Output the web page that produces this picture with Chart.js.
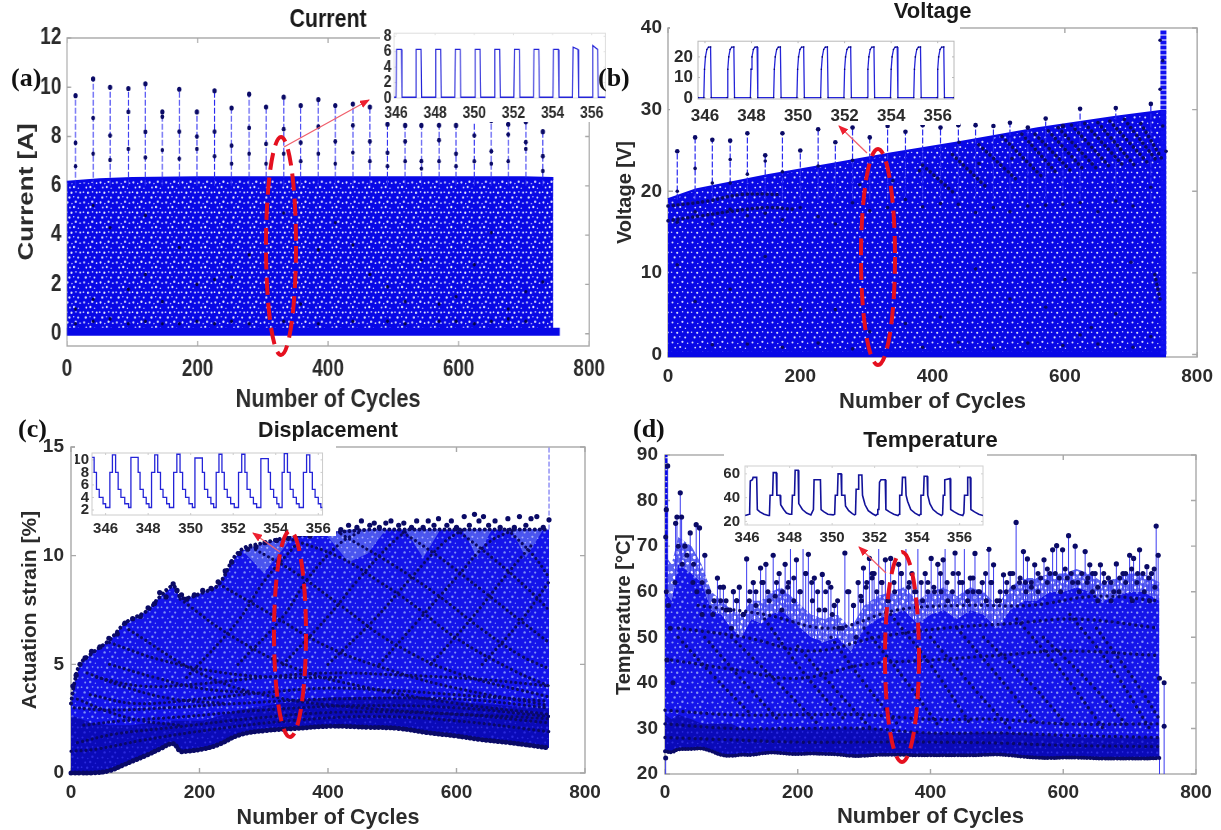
<!DOCTYPE html>
<html>
<head>
<meta charset="utf-8">
<title>Current, voltage, displacement, temperature</title>
<script src="https://cdn.jsdelivr.net/npm/chart.js@4"></script>
<style>
body { margin: 0; background: #fff; width: 1221px; height: 830px; overflow: hidden; position: relative; }
canvas { position: absolute; filter: blur(0.4px); }
.tag { position: absolute; font: bold 26px "Liberation Serif", serif; color: #111; z-index: 5; }
svg { position: absolute; left: 0; top: 0; z-index: 4; }
</style>
</head>
<body>
<canvas id="chartA"></canvas>
<canvas id="chartB"></canvas>
<canvas id="chartC"></canvas>
<canvas id="chartD"></canvas>
<canvas id="insetA"></canvas>
<canvas id="insetB"></canvas>
<canvas id="insetC"></canvas>
<canvas id="insetD"></canvas>
<div class="tag" style="left:11px;top:63px">(a)</div>
<div class="tag" style="left:598px;top:63px">(b)</div>
<div class="tag" style="left:18px;top:414px">(c)</div>
<div class="tag" style="left:633px;top:414px">(d)</div>
<svg width="1221" height="830">
  <defs>
    <marker id="head" markerWidth="10" markerHeight="8" refX="9" refY="4" orient="auto" markerUnits="userSpaceOnUse">
      <path d="M0,0 L10,4 L0,8 z" fill="#ee2030"></path>
    </marker>
  </defs>
  <g fill="none" stroke="#e5101f" stroke-width="4" stroke-dasharray="17 8">
    <ellipse cx="281" cy="246" rx="15" ry="109"></ellipse>
    <ellipse cx="878" cy="257" rx="17" ry="108"></ellipse>
    <ellipse cx="290" cy="634" rx="16" ry="103"></ellipse>
    <ellipse cx="902" cy="657" rx="17" ry="105"></ellipse>
  </g>
  <g stroke="#f0606c" stroke-width="1.3" marker-end="url(#head)">
    <line x1="284" y1="147" x2="369" y2="100"></line>
    <line x1="867" y1="153" x2="839" y2="126"></line>
    <line x1="280" y1="552" x2="253" y2="533"></line>
    <line x1="886" y1="573" x2="859" y2="547"></line>
  </g>
</svg>
<script>
var xTicks = [0, 200, 400, 600, 800];
var insetXTicks = [346, 348, 350, 352, 354, 356];

// panel a, current
var aYTicks = [0, 2, 4, 6, 8, 10, 12];
var aX = [0, 50, 100, 200, 300, 400, 500, 600, 700, 745];
var aTop = [6.15, 6.25, 6.3, 6.33, 6.33, 6.33, 6.33, 6.33, 6.33, 6.3];
var aFloorX = [0, 755];
var aFloorY = [0.08, 0.08];
var aSpikeX = [13, 40, 66, 94, 120, 146, 172, 199, 226, 252, 279, 305, 332, 358, 385, 411, 438, 464, 491, 518, 543, 570, 596, 624, 650, 676, 703, 729];
var aPeak = [9.66, 10.34, 10, 9.95, 10.14, 9, 9.92, 9, 9.86, 9.16, 9.72, 9.2, 9.6, 9.26, 9.5, 9.26, 9.32, 9.2, 8.5, 8.45, 8.45, 8.46, 8.45, 8.7, 8.65, 8.5, 8.6, 8.2];
var aMid1 = [7.74, 8.75, 8.04, 9, 8.19, 8.8, 8.2, 8, 8.2, 7.63, 8.35, 7.7, 8.3, 7.75, 8.4, 7.8, 8.45, 7.8, 7.34, 7.8, 7, 7.85, 7.3, 8.04, 7.4, 8.08, 7.77, 7.2];
var aMid2 = [6.8, 7.3, 7.05, 7.5, 7.15, 7.45, 7.1, 7.5, 7.2, 6.9, 7.3, 6.9, 7.3, 7, 7.3, 6.9, 7.35, 7, 6.8, 7, 6.7, 7, 6.8, 7, 6.9, 7, 7.5, 6.6];
var aLowX = [13, 40, 66, 94, 120, 146, 172, 199, 226, 252, 279, 332, 385, 438, 491, 518, 570, 596, 624, 650, 676, 703, 13, 40, 94, 120, 146, 199, 252, 305, 358, 411, 464, 518, 570, 624, 676, 40, 66, 120, 172, 226, 279, 332, 385, 438, 491, 543, 596, 650, 703, 729];
var aLowY = [0.4, 0.5, 0.6, 0.4, 0.5, 0.4, 0.4, 0.5, 0.4, 0.5, 0.4, 0.5, 0.4, 0.5, 0.5, 0.4, 0.5, 0.5, 0.4, 0.5, 0.6, 0.5, 1, 1.4, 1.8, 2.4, 1.3, 2, 2.3, 1.8, 1.2, 4.5, 2.4, 1.3, 1.2, 2.8, 1, 5.2, 4.3, 4.8, 3.5, 2.2, 3.2, 4.9, 3.4, 3.6, 1.9, 3, 1.5, 4.1, 1.7, 2.1];

// panel b, voltage
var bYTicks = [0, 10, 20, 30, 40];
var bX = [0, 42, 148, 254, 336, 442, 559, 677, 744, 753];
var bTop = [19, 20.2, 21.9, 23.4, 24.6, 26, 27.7, 29.1, 29.8, 29.8];
var bFloorX = [0, 753];
var bFloorY = [0.05, 0.05];
var bColumnX = [749, 749];
var bColumnY = [0, 39.8];
var bSpikeX = [14, 41, 67, 94, 120, 147, 173, 200, 227, 253, 279, 305, 332, 359, 385, 412, 439, 465, 492, 517, 544, 571, 597, 623, 677, 730];
var bPeak = [24.9, 26.6, 26.3, 26.2, 27.1, 24.4, 27.1, 25, 27.6, 26, 27.8, 26.6, 28, 27.3, 28.1, 27.8, 28.1, 28.1, 28, 28.4, 27.8, 28.9, 28, 30.1, 30.2, 30.7];
var bDotX = [14, 41, 67, 94, 94, 120, 147, 173, 227, 279, 744, 744, 753, 748, 748, 14, 41, 67, 94, 120, 147, 173, 200, 227, 253, 279, 305, 332, 359, 385, 412, 439, 465, 492, 517, 544, 571, 597, 623, 650, 677, 703, 730, 14, 41, 94, 147, 200, 253, 305, 359, 412, 465, 517, 571, 623, 677, 730, 67, 120, 173, 227, 279, 332, 385, 439, 492, 544, 597, 650, 703, 600, 640, 700, 440, 470, 520, 380, 340, 290];
var bDotY = [20, 22.8, 21, 23.9, 21, 22.1, 23.7, 22.4, 23.1, 23.8, 32.5, 38.5, 24.9, 28, 36, 16.2, 17.5, 16, 17.8, 17, 17.3, 16.5, 18, 16.9, 16, 18.6, 17.6, 18, 19, 18.1, 18.5, 18.4, 17.4, 18, 17.5, 18.2, 18.3, 18.4, 18.6, 17.5, 18.8, 18.2, 20.5, 11, 6.5, 8, 12, 5.5, 5.5, 2.8, 3.8, 4.6, 10.5, 6.8, 5.8, 2.4, 5, 2.2, 1.2, 1.3, 0.9, 1.4, 0.7, 1.2, 0.9, 1.5, 0.8, 1.4, 1.1, 1.3, 0.9, 9.2, 3.3, 11.3, 26, 23.4, 24, 22.5, 21.3, 20.8];
var bChainX = [[0, 60, 110, 170], [0, 50, 100, 150, 190], [385, 432], [430, 480], [470, 530], [505, 565], [535, 590], [555, 610], [575, 630], [590, 650], [610, 670], [630, 690], [650, 705], [668, 725], [690, 740], [715, 748], [736, 744]];
var bChainY = [[18.2, 18.8, 19.6, 19.6], [16.4, 17, 17.6, 18, 17.8], [23.2, 19.8], [24.5, 20.6], [25.7, 21.2], [26.7, 21.8], [27, 22], [27, 22.4], [27.4, 22.5], [27.8, 22.6], [28.1, 22.8], [28.3, 23], [28.4, 23.2], [28.6, 23.5], [28.8, 23.6], [28.3, 23.8], [9.8, 6.7]];

// panel c, actuation strain
var cYTicks = [0, 5, 10, 15];
var cX = [0, 5, 14, 32, 59, 84, 96, 120, 138, 159, 170, 180, 205, 229, 262, 302, 350, 405, 465, 510, 556, 600, 635, 680, 720, 744];
var cTop = [3.2, 4.1, 5, 5.5, 6.1, 6.9, 7.1, 7.5, 8.1, 8.6, 8.1, 8.05, 8.3, 8.65, 10.2, 10.6, 10.9, 11.05, 11.2, 11.2, 11.2, 11.2, 11.2, 11.2, 11.2, 11.2];
var cBand = [2.6, 2.6, 2.5, 2.3, 2.2, 2.2, 2.2, 2.3, 2.3, 2.4, 2.4, 2.4, 2.4, 2.6, 2.9, 3.1, 3.3, 3.5, 3.5, 3.5, 3.4, 3.3, 3.2, 3.1, 3, 3];
var cBottom = [0, 0, 0, 0, 0.1, 0.4, 0.55, 0.85, 1.1, 1.35, 1, 1, 1.1, 1.3, 1.75, 1.95, 2.05, 2.15, 2.1, 2.05, 1.85, 1.7, 1.55, 1.4, 1.25, 1.15];
var cShadeX = [268, 300, 322, 345, 395, 432, 462, 490, 520, 548, 575, 610, 632, 655, 685, 708, 735];
var cShadeTop = [10.2, 10.6, 10.7, 10.9, 11.05, 11.2, 11.2, 11.2, 11.2, 11.2, 11.2, 11.2, 11.2, 11.2, 11.2, 11.2, 11.2];
var cShadeLow = [10.2, 9.2, 10, 10.9, 11.05, 9.7, 10.1, 11.2, 11.2, 9.9, 11.2, 11.2, 9.9, 11.2, 11.2, 9.9, 11.2];
var cSpikeX = [744, 744];
var cSpikeY = [11.2, 15];
var cDotX = [3, 8, 14, 22, 32, 45, 59, 72, 84, 96, 108, 120, 130, 138, 148, 159, 165, 172, 180, 192, 205, 218, 229, 240, 250, 262, 275, 288, 302, 320, 338, 350, 372, 390, 405, 420, 432, 445, 452, 465, 472, 480, 490, 498, 510, 518, 530, 538, 548, 556, 565, 572, 585, 592, 600, 612, 620, 628, 635, 642, 650, 660, 668, 680, 690, 698, 708, 716, 725, 735, 744];
var cDotY = [4, 4.5, 5, 5.3, 5.6, 5.8, 6.2, 6.4, 6.9, 7.1, 7.2, 7.6, 7.8, 8.3, 8.1, 8.7, 8.4, 8.2, 8, 8.2, 8.4, 8.5, 8.8, 9.3, 9.7, 10.1, 10.3, 10.4, 10.6, 10.7, 10.8, 10.9, 10.9, 11, 11.1, 11.2, 11.4, 11.3, 11.6, 11.4, 11.5, 11.3, 11.5, 11.6, 11.4, 11.5, 11.3, 11.6, 11.3, 11.6, 11.4, 11.7, 11.4, 11.6, 11.3, 11.8, 11.4, 11.9, 11.6, 11.8, 11.4, 11.6, 11.3, 11.7, 11.3, 11.8, 11.4, 11.7, 11.8, 11.3, 11.65];
var cArcX = [[338, 420, 480, 530, 600, 690, 744], [280, 350, 420, 500, 600, 744], [230, 300, 400, 500, 600, 744], [170, 250, 350, 450, 600, 744], [90, 200, 300, 450, 744], [420, 500, 570, 640, 700, 744], [510, 570, 640, 700, 744], [600, 660, 710, 744], [680, 720, 744], [480, 540, 600, 650, 690], [400, 470, 530, 580, 610], [330, 400, 450, 500, 530], [260, 330, 370, 420, 450], [180, 260, 300, 350], [560, 620, 680, 720], [640, 700, 744], [30, 100, 200, 300, 400, 500, 600, 744], [20, 80, 180, 300, 450, 600, 744], [10, 70, 160, 280, 420, 600, 744], [5, 60, 150, 260, 400, 600, 744], [40, 110, 200, 300, 400, 520, 640, 744], [0, 40, 110, 220, 340, 470, 600, 744], [60, 140, 240, 330, 420], [60, 130, 200, 280], [25, 90, 160, 240], [10, 60, 110, 170]];
var cArcY = [[10.8, 9.9, 8.8, 7.8, 6.2, 4.7, 4], [10.4, 9.2, 7.7, 6, 4.6, 3.5], [8.7, 7.5, 5.8, 4.7, 3.9, 3.1], [8, 6.3, 4.8, 4, 3.2, 2.7], [6.6, 4.6, 3.6, 3, 2.5], [11, 9.6, 8.2, 6.6, 5.4, 4.8], [11.2, 10, 8.4, 7, 6], [11.2, 9.8, 8.5, 7.5], [11.2, 10, 9], [5, 7, 9, 10.6, 11.2], [5, 7, 9, 10.6, 11.2], [5, 7.2, 9, 10.6, 11.3], [5, 7.2, 9, 10.6, 11.1], [4.4, 7, 8.8, 10.5], [5, 7, 9.2, 10.6], [5, 7, 8.8], [3.6, 3.2, 3.4, 3.7, 3.9, 3.8, 3.6, 3.3], [2.2, 2.4, 2.6, 2.9, 3.1, 3, 2.6], [1.4, 1.8, 2.1, 2.5, 2.8, 2.7, 2.3], [3, 2.9, 3, 3.2, 3.4, 3.4, 3], [4.4, 4, 4.1, 4.4, 4.6, 4.5, 4.3, 4], [1, 1.1, 1.5, 2, 2.4, 2.6, 2.4, 1.9], [6, 5.2, 4.6, 4.4, 4.4], [5, 4.4, 3.9, 3.7], [4.6, 3.9, 3.4, 3.2], [3.4, 2.8, 2.4, 2.2]];

// panel d, temperature
var dYTicks = [20, 30, 40, 50, 60, 70, 80, 90];
var dX = [0, 10, 20, 40, 55, 70, 85, 100, 115, 130, 145, 160, 175, 190, 205, 220, 240, 260, 280, 300, 320, 340, 360, 380, 400, 420, 440, 460, 480, 500, 520, 540, 560, 580, 600, 620, 640, 660, 680, 700, 720, 745];
var dHaze = [68, 66, 72, 70, 66, 60, 58, 56, 55, 58, 58, 60, 61, 59, 57, 55, 54, 55, 52, 57, 59, 60, 61, 58, 60, 61, 59, 61, 60, 57, 61, 63, 63, 64, 64, 65, 64, 62, 63, 64, 64, 62];
var dTop = [60, 58, 66, 64, 62, 56, 55, 52, 50, 54, 53, 55, 56, 54, 52, 50, 49, 50, 47, 52, 54, 55, 56, 53, 55, 56, 54, 56, 55, 52, 56, 58, 58, 60, 60, 61, 60, 58, 59, 60, 60, 58];
var dBand = [33, 32, 33, 32, 31, 31, 31, 31, 30, 30, 30, 30, 30, 30, 30, 30, 30, 30, 30, 30, 30, 29, 29, 29, 29, 29, 29, 29, 29, 29, 29, 29, 28.5, 28.5, 28, 28, 28, 28, 28, 28, 28, 28];
var dBottom = [25, 24.8, 25.4, 25.5, 25.6, 25, 24.2, 24, 24.2, 24.2, 24.5, 24.7, 24.6, 24.4, 24.4, 24.5, 24.4, 24.3, 24, 24, 24.2, 24.2, 24.2, 24.1, 24.1, 24.1, 24.1, 24.1, 24.2, 24.3, 24.1, 23.8, 23.6, 23.5, 23.6, 23.6, 23.5, 23.4, 23.4, 23.4, 23.4, 23.5];
var dEdgeX = [1, 745, 752];
var dEdgeTop = [23.5, 24, 40];
var dWallX = [2, 2];
var dWallY = [25, 90];
var dSpikeX = [2, 4, 16, 18, 23, 25, 30, 38, 47, 52, 60, 79, 88, 103, 112, 123, 133, 144, 152, 163, 172, 181, 189, 198, 208, 216, 225, 237, 246, 255, 271, 284, 291, 299, 308, 315, 322, 332, 340, 352, 363, 372, 381, 392, 401, 411, 419, 422, 437, 451, 460, 467, 478, 488, 495, 510, 520, 529, 540, 546, 557, 571, 584, 590, 599, 608, 618, 633, 640, 648, 656, 668, 680, 690, 700, 706, 715, 726, 733, 740, 743];
var dSpikeTop = [78, 87.6, 75, 76.4, 81.7, 76.4, 70, 72.9, 74.7, 74, 68, 63, 61, 60, 61, 67.2, 62, 65.2, 66, 68, 64, 66, 70, 67, 70, 68.2, 63, 63.8, 62, 57, 68.5, 57, 62, 65.2, 67.3, 64, 70, 67, 67.3, 66, 70, 64, 70, 64, 67.3, 66, 67, 70, 68.5, 70, 63, 68.4, 62, 69.3, 65.9, 63.7, 64, 75.2, 68.8, 67.2, 65.9, 67, 69.2, 70.1, 69.2, 72.3, 70, 68.8, 65.9, 64, 65.9, 63, 66.1, 64, 68, 67.3, 69.2, 65.5, 64, 74.4, 68];
var dMidX = [43, 56, 66, 74, 83, 92, 98, 108, 118, 127, 137, 148, 157, 168, 177, 185, 194, 203, 212, 221, 230, 241, 250, 260, 267, 277, 295, 303, 312, 319, 327, 336, 345, 356, 367, 376, 386, 396, 405, 415, 425, 433, 442, 448, 456, 464, 472, 483, 491, 500, 505, 515, 525, 535, 543, 552, 562, 566, 576, 580, 594, 603, 612, 622, 628, 637, 644, 652, 661, 672, 676, 685, 694, 703, 711, 720, 729, 737];
var dMidTop = [66, 62, 60, 58, 61, 58, 56, 58, 55, 58, 60, 62, 58, 62, 60, 61, 63, 60, 64, 62, 60, 56, 61, 58, 52, 60, 59, 61, 63, 60, 62, 58, 62, 64, 61, 60, 62, 60, 61, 64, 62, 60, 64, 62, 60, 63, 60, 64, 62, 58, 60, 62, 61, 63, 62, 62, 64, 63, 65, 64, 63, 65, 64, 62, 64, 63, 64, 61, 64, 62, 60, 63, 64, 65, 62, 64, 63, 65];
var dDotX = [1, 2, 3, 5, 8, 12, 15, 20, 26, 33, 42, 48, 56, 65, 72, 84, 92, 100, 108, 118, 128, 137, 146, 155, 166, 176, 186, 194, 204, 212, 222, 232, 242, 252, 262, 275, 288, 296, 304, 312, 326, 336, 346, 356, 368, 378, 388, 396, 406, 416, 426, 434, 444, 456, 464, 474, 484, 492, 504, 514, 524, 534, 544, 552, 562, 576, 588, 596, 606, 614, 624, 636, 644, 652, 662, 672, 684, 694, 704, 712, 722, 730, 738, 745, 752, 752, 1];
var dDotY = [72, 60, 45, 57, 52, 40, 62, 70, 66, 68, 62, 60, 55, 60, 55, 58, 56, 52, 58, 55, 60, 57, 62, 60, 59, 56, 62, 58, 60, 64, 58, 56, 60, 55, 52, 60, 50, 58, 62, 64, 62, 58, 60, 64, 62, 60, 58, 62, 60, 60, 58, 64, 62, 58, 60, 60, 58, 62, 58, 60, 64, 62, 60, 61, 60, 62, 64, 60, 63, 62, 60, 62, 60, 58, 62, 58, 60, 62, 58, 64, 60, 58, 61, 41, 30.5, 40, 23.5];
var dChainX = [[400, 470, 520], [440, 510, 560], [480, 550, 610], [530, 600, 660], [570, 640, 700], [610, 670, 730], [650, 710, 745], [20, 70, 130], [60, 120, 170], [100, 170, 230], [150, 210, 270], [200, 260, 310], [250, 300, 350], [300, 360, 410], [340, 400, 460], [50, 150, 250, 350, 450, 550, 650, 745], [20, 120, 220, 320, 420, 520, 620, 745], [10, 100, 200, 300, 400, 500, 600, 745], [0, 100, 200, 300, 400, 500, 600, 745], [0, 100, 200, 300, 400, 500, 600, 745], [0, 100, 200, 300, 400, 500, 600, 745]];
var dChainY = [[50, 38, 30], [52, 40, 31], [50, 40, 30], [54, 42, 30], [50, 40, 30], [55, 44, 30], [52, 40, 32], [50, 42, 33], [50, 40, 32], [50, 40, 31], [54, 42, 32], [48, 38, 30], [50, 40, 31], [52, 41, 31], [55, 44, 31], [57, 55, 52, 56, 57, 57, 59, 58], [52, 50, 47, 50, 52, 53, 54, 52], [45, 43, 41, 44, 45, 46, 47, 46], [34, 33, 33, 33, 32, 32, 31, 31], [31, 30, 30, 30, 29, 29, 28.5, 28], [28, 27.5, 27, 27, 27, 26.8, 26.3, 26]];

// zoomed insets
var aInsetYTicks = [0, 2, 4, 6, 8];
var aInsetX = [345.9, 346, 346.03, 346.28, 346.31, 347, 347.03, 347.28, 347.31, 348, 348.03, 348.28, 348.31, 349, 349.03, 349.28, 349.31, 350.02, 350.05, 350.3, 350.33, 351.02, 351.05, 351.3, 351.33, 352.02, 352.05, 352.3, 352.33, 353.02, 353.05, 353.3, 353.33, 354.02, 354.05, 354.3, 354.33, 355.02, 355.05, 355.3, 355.33, 356.02, 356.05, 356.3, 356.33, 356.75];
var aInsetY = [0.1, 0.1, 6.3, 6.3, 0.1, 0.1, 6.3, 6.3, 0.1, 0.1, 6.3, 6.3, 0.1, 0.1, 6.3, 6.3, 0.1, 0.1, 6.3, 6.3, 0.1, 0.1, 6.3, 6.3, 0.1, 0.1, 6.3, 6.3, 0.1, 0.1, 6.3, 6.3, 0.1, 0.1, 6.3, 6.3, 0.1, 0.1, 6.6, 6.3, 0.1, 0.1, 6.8, 6.3, 0.1, 0.1];

var bInsetYTicks = [0, 10, 20];
var bInsetX = [345.7, 345.95, 345.98, 346.02, 346.08, 346.15, 346.24, 346.27, 346.95, 346.98, 347.02, 347.08, 347.15, 347.24, 347.27, 347.95, 347.98, 348.02, 348.08, 348.15, 348.24, 348.27, 348.95, 348.98, 349.02, 349.08, 349.15, 349.24, 349.27, 349.95, 349.98, 350.02, 350.08, 350.15, 350.24, 350.27, 350.97, 351, 351.04, 351.1, 351.17, 351.26, 351.29, 351.97, 352, 352.04, 352.1, 352.17, 352.26, 352.29, 352.97, 353, 353.04, 353.1, 353.17, 353.26, 353.29, 353.97, 354, 354.04, 354.1, 354.17, 354.26, 354.29, 354.97, 355, 355.04, 355.1, 355.17, 355.26, 355.29, 355.97, 356, 356.04, 356.1, 356.17, 356.26, 356.29, 356.7];
var bInsetY = [0.3, 0.3, 14, 20, 23.6, 24.7, 24.8, 0.3, 0.3, 14, 20, 23.6, 24.7, 24.8, 0.3, 0.3, 14, 20, 23.6, 24.7, 24.8, 0.3, 0.3, 14, 20, 23.6, 24.7, 24.8, 0.3, 0.3, 14, 20, 23.6, 24.7, 24.8, 0.3, 0.3, 14, 20, 23.6, 24.7, 24.8, 0.3, 0.3, 14, 20, 23.6, 24.7, 24.8, 0.3, 0.3, 14, 20, 23.6, 24.7, 24.8, 0.3, 0.3, 14, 20, 23.6, 24.7, 24.8, 0.3, 0.3, 14, 20, 23.6, 24.7, 24.8, 0.3, 0.3, 14, 20, 23.6, 24.7, 24.8, 0.3, 0.3];

var cInsetYTicks = [2, 4, 6, 8, 10];
var cInsetX = [345.37, 345.46, 345.57, 345.7, 345.88, 346, 346.2, 346.32, 346.47, 346.59, 346.72, 346.9, 347.08, 347.19, 347.53, 347.62, 347.77, 347.91, 348.04, 348.16, 348.31, 348.45, 348.58, 348.7, 348.87, 349, 349.2, 349.35, 349.5, 349.62, 349.76, 349.92, 350.08, 350.2, 350.55, 350.65, 350.8, 350.95, 351.08, 351.2, 351.33, 351.47, 351.58, 351.72, 351.88, 352.05, 352.25, 352.4, 352.55, 352.65, 352.8, 352.95, 353.1, 353.3, 353.65, 353.75, 353.9, 354.05, 354.15, 354.3, 354.4, 354.55, 354.68, 354.82, 354.97, 355.1, 355.3, 355.45, 355.6, 355.72, 355.85, 356, 356.12, 356.2];
var cInsetY = [10.4, 8, 5.3, 4, 3, 2.4, 8, 10.8, 8, 5.3, 4, 3, 2.4, 10.4, 8, 5.3, 4, 3, 2.4, 8, 10.8, 8, 5.3, 4, 3, 2.4, 8, 10.9, 8, 5.3, 4, 3, 2.4, 10.3, 8, 5.3, 4, 3, 2.4, 8, 10.9, 8, 5.3, 4, 3, 2.4, 8, 10.9, 8, 5.3, 4, 3, 2.4, 10.2, 8, 5.3, 4, 3, 2.4, 8, 11, 8, 5.3, 4, 3, 2.4, 8, 10.8, 8, 5.3, 4, 3, 2.4, 2.4];

var dInsetYTicks = [20, 40, 60];
var dInsetX = [345.91, 346.1, 346.12, 346.15, 346.25, 346.28, 346.45, 346.48, 346.6, 346.8, 347, 347.05, 347.08, 347.2, 347.23, 347.37, 347.4, 347.55, 347.58, 347.72, 347.85, 348, 348.1, 348.13, 348.23, 348.26, 348.4, 348.43, 348.6, 348.8, 349, 349.12, 349.15, 349.45, 349.48, 349.62, 349.8, 350.05, 350.12, 350.15, 350.25, 350.28, 350.42, 350.45, 350.6, 350.63, 350.78, 350.95, 351.05, 351.1, 351.13, 351.22, 351.25, 351.4, 351.43, 351.55, 351.7, 351.9, 352.05, 352.12, 352.15, 352.2, 352.23, 352.3, 352.5, 352.53, 352.7, 352.9, 353.1, 353.15, 353.18, 353.28, 353.31, 353.45, 353.48, 353.55, 353.7, 353.9, 354.1, 354.15, 354.18, 354.3, 354.33, 354.47, 354.5, 354.6, 354.75, 354.95, 355.15, 355.2, 355.23, 355.27, 355.3, 355.55, 355.58, 355.75, 355.95, 356.15, 356.2, 356.23, 356.35, 356.38, 356.5, 356.53, 356.7, 356.9, 357.1];
var dInsetY = [25, 26, 29, 54, 55, 57, 57, 30, 28, 26, 25, 25, 42, 42, 61, 61, 42, 42, 34, 30, 27, 26, 26, 42, 42, 63, 63, 35, 30, 27, 25.5, 30, 55, 55, 30, 28, 26, 25.5, 26, 42, 42, 60, 60, 42, 42, 33, 29, 26.5, 25.5, 26, 47, 47, 59, 59, 42, 34, 29, 26.5, 25, 26, 30, 30, 53, 55, 55, 30, 28, 26, 25, 26, 42, 42, 57, 57, 42, 37, 30, 27, 25, 26, 42, 42, 58, 58, 42, 35, 30, 27, 25, 26, 42, 42, 55, 56, 30, 28, 26, 25, 27, 42, 42, 57, 57, 30, 28, 26, 25];

var blue = '#0808e6';
var navy = '#0a0a66';
var wide = '"Liberation Sans", sans-serif';

// speckle used to fill the solid part of each panel, a 20px tile with uneven dots
function speckle(base, dot, size) {
  var c = document.createElement('canvas');
  c.width = 20;
  c.height = 20;
  var g = c.getContext('2d');
  g.fillStyle = base;
  g.fillRect(0, 0, 20, 20);
  g.fillStyle = dot;
  [[2.5, 2.5, 1], [7.8, 3.6, 0.7], [12.4, 1.8, 1.1], [17.6, 3.2, 0.8], [5.2, 7.6, 0.9], [10.2, 7, 1.1], [15.4, 8.2, 0.7], [1.6, 12.2, 0.8], [7.2, 12.8, 1.1], [12.6, 11.8, 0.8], [17.8, 12.6, 1], [4.6, 17.4, 1.1], [9.8, 16.8, 0.7], [15.2, 17.6, 1]].forEach(function (d) {
    g.beginPath();
    g.arc(d[0], d[1], d[2] * size, 0, 7);
    g.fill();
  });
  return g.createPattern(c, 'repeat');
}

function pts(xs, ys) {
  return xs.map(function (x, i) { return { x: x, y: ys[i] }; });
}

function line(xs, ys, extra) {
  return Object.assign({ data: pts(xs, ys), pointRadius: 0, borderColor: blue, borderWidth: 1, clip: false, fill: false }, extra);
}

function dots(xs, ys, r, color) {
  return { data: pts(xs, ys), showLine: false, pointRadius: r || 2.4, pointBackgroundColor: color || navy, pointBorderWidth: 0, clip: false };
}

// vertical spikes, broken apart with NaN
function spikes(xs, base, tops, extra) {
  var out = [];
  xs.forEach(function (x, i) {
    out.push({ x: x, y: base }, { x: x, y: tops[i] }, { x: x, y: NaN });
  });
  return Object.assign({ data: out, pointRadius: 0, borderColor: '#2a2af0', borderWidth: 1.2, borderDash: [6, 2], clip: false, spanGaps: false, fill: false }, extra);
}

// strings of dark points along a curve
function chains(xLists, yLists, width, gap) {
  return xLists.map(function (xs, i) {
    return chain(xs, yLists[i], width, gap);
  });
}

function chain(xs, ys, width, gap) {
  return line(xs, ys, { borderColor: navy, borderWidth: width, borderDash: [0.01, gap], borderCapStyle: 'round', tension: 0.4 });
}

var framePlugin = {
  id: 'frame',
  beforeDatasetsDraw: function (chart, args, opts) {
    var a = chart.chartArea, g = chart.ctx;
    g.save();
    g.strokeStyle = opts.color;
    g.lineWidth = opts.width;
    g.strokeRect(a.left, a.top, a.right - a.left, a.bottom - a.top);
    chart.scales.x.ticks.forEach(function (t) {
      var p = chart.scales.x.getPixelForValue(t.value);
      g.beginPath();
      g.moveTo(p, a.bottom); g.lineTo(p, a.bottom - opts.tick);
      g.moveTo(p, a.top); g.lineTo(p, a.top + opts.tick);
      g.stroke();
    });
    chart.scales.y.ticks.forEach(function (t) {
      var p = chart.scales.y.getPixelForValue(t.value);
      g.beginPath();
      g.moveTo(a.left, p); g.lineTo(a.left + opts.tick, p);
      g.moveTo(a.right, p); g.lineTo(a.right - opts.tick, p);
      g.stroke();
    });
    g.restore();
  }
};

function setTicks(list) {
  return function (axis) {
    axis.ticks = list.map(function (v) { return { value: v }; });
  };
}

// box is where the canvas sits on the page; squeeze narrows the drawing sideways (panel a uses a condensed look)
function draw(id, box, plot, p, datasets) {
  var sq = box.squeeze || 1;
  var c = document.getElementById(id);
  c.width = Math.round(box.w / sq);
  c.height = box.h;
  c.style.left = box.x + 'px';
  c.style.top = box.y + 'px';
  c.style.width = box.w + 'px';
  c.style.height = box.h + 'px';
  if (box.white) c.style.background = '#fff';
  datasets.forEach(function (d, i) { d.order = datasets.length - i; });
  var xGap = p.xTitle ? box.h - p.xTitleY - p.xTitleSize * 0.6 : 0;
  var yGap = p.yTitle ? p.yTitleX / sq - p.yTitleSize * 0.6 : 0;
  var titleH = p.title ? p.titleSize * 1.2 : 0;
  new Chart(c.getContext('2d'), {
    type: 'line',
    data: { datasets: datasets },
    plugins: [framePlugin],
    options: {
      responsive: false,
      animation: false,
      events: [],
      layout: { padding: { top: p.title ? 0 : plot.top, right: c.width - plot.right / sq, left: 0, bottom: 0 } },
      plugins: {
        legend: { display: false },
        tooltip: { enabled: false },
        frame: { color: p.frameColor || '#a8a8a8', width: p.frameWidth || 1.4, tick: p.tick === undefined ? 5 : p.tick },
        title: p.title ? {
          display: true, text: p.title, color: '#1a1a1a', fullSize: false,
          font: { family: wide, size: p.titleSize, weight: 'bold' },
          padding: { top: p.titleY - titleH / 2, bottom: plot.top - p.titleY - titleH / 2 }
        } : { display: false }
      },
      scales: {
        x: {
          type: 'linear', min: p.xMin, max: p.xMax,
          afterBuildTicks: setTicks(p.xTicks),
          afterFit: function (s) { s.height = box.h - plot.bottom; },
          grid: { display: false, drawTicks: false }, border: { display: false },
          title: p.xTitle ? { display: true, text: p.xTitle, color: '#2b2b2b', font: { family: wide, size: p.xTitleSize, weight: 'bold' }, padding: { top: xGap, bottom: xGap } } : { display: false },
          ticks: { autoSkip: false, maxRotation: 0, color: '#2b2b2b', padding: p.xPad, font: { family: wide, size: p.tickSize, weight: 'bold' }, callback: function (v) { return v; } }
        },
        y: {
          min: p.yMin, max: p.yMax,
          afterBuildTicks: setTicks(p.yTicks),
          afterFit: function (s) { s.width = plot.left / sq; },
          grid: { display: false, drawTicks: false }, border: { display: false },
          title: p.yTitle ? { display: true, text: p.yTitle, color: '#2b2b2b', font: { family: wide, size: p.yTitleSize, weight: 'bold' }, padding: { top: yGap, bottom: yGap } } : { display: false },
          ticks: { autoSkip: false, color: '#2b2b2b', padding: p.yPad, font: { family: wide, size: p.tickSize, weight: 'bold' }, callback: function (v) { return v; } }
        }
      }
    }
  });
}

// panel a
draw('chartA', { x: 0, y: 0, w: 625, h: 415, squeeze: 0.82 }, { left: 67, right: 589, top: 38, bottom: 346 },
  { title: 'Current', titleSize: 26, titleY: 20, tickSize: 23, xTitle: 'Number of Cycles', xTitleSize: 26.5, xTitleY: 400, yTitle: 'Current [A]', yTitleSize: 26, yTitleX: 27,
    xMin: 0, xMax: 800, xTicks: xTicks, yMin: -0.5, yMax: 12, yTicks: aYTicks, xPad: 10, yPad: 7 },
  [
    line(aX, aTop, { fill: { value: 0 }, backgroundColor: speckle(blue, '#e2e6fc', 1.15), borderWidth: 3 }),
    spikes(aSpikeX, 6, aPeak),
    line(aFloorX, aFloorY, { borderWidth: 8 }),
    dots(aSpikeX, aPeak, 2.6),
    dots(aSpikeX, aMid1, 2.4),
    dots(aSpikeX, aMid2, 2.2),
    dots(aLowX, aLowY, 1.8, '#05054a')
  ]);

// panel b
draw('chartB', { x: 610, y: 0, w: 611, h: 415 }, { left: 58, right: 588, top: 28, bottom: 357 },
  { title: 'Voltage', titleSize: 22, titleY: 12, tickSize: 19, xTitle: 'Number of Cycles', xTitleSize: 22, xTitleY: 402, yTitle: 'Voltage [V]', yTitleSize: 20, yTitleX: 15,
    xMin: 0, xMax: 800, xTicks: xTicks, yMin: -0.3, yMax: 40, yTicks: bYTicks, xPad: 8, yPad: 6 },
  [
    line(bX, bTop, { fill: { value: 0 }, backgroundColor: speckle(blue, '#d6dbfb', 1), borderWidth: 2.5 }),
    spikes(bSpikeX, 19, bPeak),
    line(bFloorX, bFloorY, { borderWidth: 6 }),
    line(bColumnX, bColumnY, { borderWidth: 6, borderColor: '#1010f0', borderDash: [4, 1] })
  ].concat(chains(bChainX, bChainY, 3.6, 5)).concat([
    dots(bSpikeX, bPeak, 2.3),
    dots(bDotX, bDotY, 1.8)
  ]));

// panel c
draw('chartC', { x: 0, y: 415, w: 610, h: 415 }, { left: 71, right: 585, top: 32, bottom: 358 },
  { title: 'Displacement', titleSize: 21.5, titleY: 16, tickSize: 19, xTitle: 'Number of Cycles', xTitleSize: 21.5, xTitleY: 403, yTitle: 'Actuation strain [%]', yTitleSize: 21, yTitleX: 30,
    xMin: 0, xMax: 800, xTicks: xTicks, yMin: 0, yMax: 15, yTicks: cYTicks, xPad: 8, yPad: 7 },
  [
    line(cX, cTop, { fill: '+1', backgroundColor: speckle('#1414ea', '#7f90f6', 1.1), borderWidth: 0 }),
    line(cX, cBottom, { borderWidth: 0 }),
    line(cShadeX, cShadeTop, { fill: '+1', backgroundColor: speckle('#4a55ee', '#aab4f8', 1), borderWidth: 0 }),
    line(cShadeX, cShadeLow, { borderWidth: 0 }),
    line(cX, cBand, { fill: '+1', backgroundColor: speckle('#0a0ab8', '#2a2adc', 1.1), borderWidth: 0 }),
    line(cX, cBottom, { borderWidth: 0 }),
    line(cSpikeX, cSpikeY, { borderColor: '#5a5af0', borderDash: [5, 2] })
  ].concat(chains(cArcX, cArcY, 3.2, 5)).concat([
    chain(cX, cTop, 4, 5),
    chain(cX, cBottom, 5, 4),
    dots(cDotX, cDotY, 2.6)
  ]));

// panel d
draw('chartD', { x: 610, y: 420, w: 611, h: 410 }, { left: 55, right: 586, top: 35, bottom: 354 },
  { title: 'Temperature', titleSize: 22.5, titleY: 21, tickSize: 19, xTitle: 'Number of Cycles', xTitleSize: 22, xTitleY: 397, yTitle: 'Temperature [°C]', yTitleSize: 20, yTitleX: 14,
    xMin: 0, xMax: 800, xTicks: xTicks, yMin: 20, yMax: 90, yTicks: dYTicks, xPad: 7.5, yPad: 7 },
  [
    line(dX, dHaze, { fill: '+1', backgroundColor: speckle('#5a62f0', '#ffffff', 1.6), borderWidth: 0 }),
    line(dX, dTop, { borderWidth: 0 }),
    spikes(dSpikeX, 40, dSpikeTop, { borderDash: [], borderColor: '#3a3af0', borderWidth: 1 }),
    spikes(dMidX, 40, dMidTop, { borderDash: [], borderColor: '#3a3af0', borderWidth: 1 }),
    spikes(dEdgeX, 20, dEdgeTop, { borderDash: [], borderColor: '#3a3af0', borderWidth: 1 }),
    line(dWallX, dWallY, { borderWidth: 2.5, borderDash: [5, 1] }),
    line(dX, dTop, { fill: '+1', backgroundColor: speckle('#1414ea', '#8896f6', 1.1), borderWidth: 0 }),
    line(dX, dBottom, { borderWidth: 0 }),
    line(dX, dBand, { fill: '+1', backgroundColor: speckle('#0a0ab8', '#2a2adc', 1.1), borderWidth: 0 }),
    line(dX, dBottom, { borderWidth: 0 })
  ].concat(chains(dChainX, dChainY, 3.4, 6)).concat([
    chain(dX, dBottom, 4, 3),
    dots(dSpikeX, dSpikeTop, 2.6),
    dots(dMidX, dMidTop, 2.5),
    dots(dDotX, dDotY, 2.5)
  ]));

// insets sit on a white box above the main plots
function insetLine(xs, ys, extra) {
  return [Object.assign({ data: pts(xs, ys), borderColor: '#2424d8', borderWidth: 1.3, pointRadius: 0, fill: false }, extra)];
}

draw('insetA', { x: 380, y: 20, w: 230, h: 102, white: true, squeeze: 0.82 }, { left: 14, right: 225, top: 3, bottom: 78 },
  { tickSize: 17, xMin: 345.9, xMax: 356.7, xTicks: insetXTicks, yMin: 0, yMax: 8.4, yTicks: aInsetYTicks, xPad: 5, yPad: 3, frameColor: '#dddddd', frameWidth: 1, tick: 2 },
  insetLine(aInsetX, aInsetY));

draw('insetB', { x: 670, y: 26, w: 290, h: 99, white: true }, { left: 28, right: 284, top: 1, bottom: 73 },
  { tickSize: 17, xMin: 345.7, xMax: 356.7, xTicks: insetXTicks, yMin: -0.4, yMax: 27.6, yTicks: bInsetYTicks, xPad: 7, yPad: 5, frameColor: '#b8b8b8', frameWidth: 1, tick: 2 },
  insetLine(bInsetX, bInsetY, { pointRadius: 0.8, pointBackgroundColor: navy, pointBorderWidth: 0 }));

draw('insetC', { x: 75, y: 441, w: 261, h: 95, white: true }, { left: 17, right: 250, top: 6, bottom: 74 },
  { tickSize: 15, xMin: 345.36, xMax: 356.2, xTicks: insetXTicks, yMin: 1.2, yMax: 11.1, yTicks: cInsetYTicks, xPad: 5, yPad: 3, frameColor: '#cccccc', frameWidth: 1, tick: 2 },
  insetLine(cInsetX, cInsetY, { stepped: 'before' }));

draw('insetD', { x: 724, y: 452, w: 263, h: 97, white: true }, { left: 21, right: 259, top: 5, bottom: 73 },
  { tickSize: 15, xMin: 345.9, xMax: 357.1, xTicks: insetXTicks, yMin: 17, yMax: 66.6, yTicks: dInsetYTicks, xPad: 4, yPad: 5, frameColor: '#d0d0d0', frameWidth: 1, tick: 2 },
  insetLine(dInsetX, dInsetY, { borderColor: '#12129a', borderWidth: 1.6 }));
</script>
</body>
</html>
